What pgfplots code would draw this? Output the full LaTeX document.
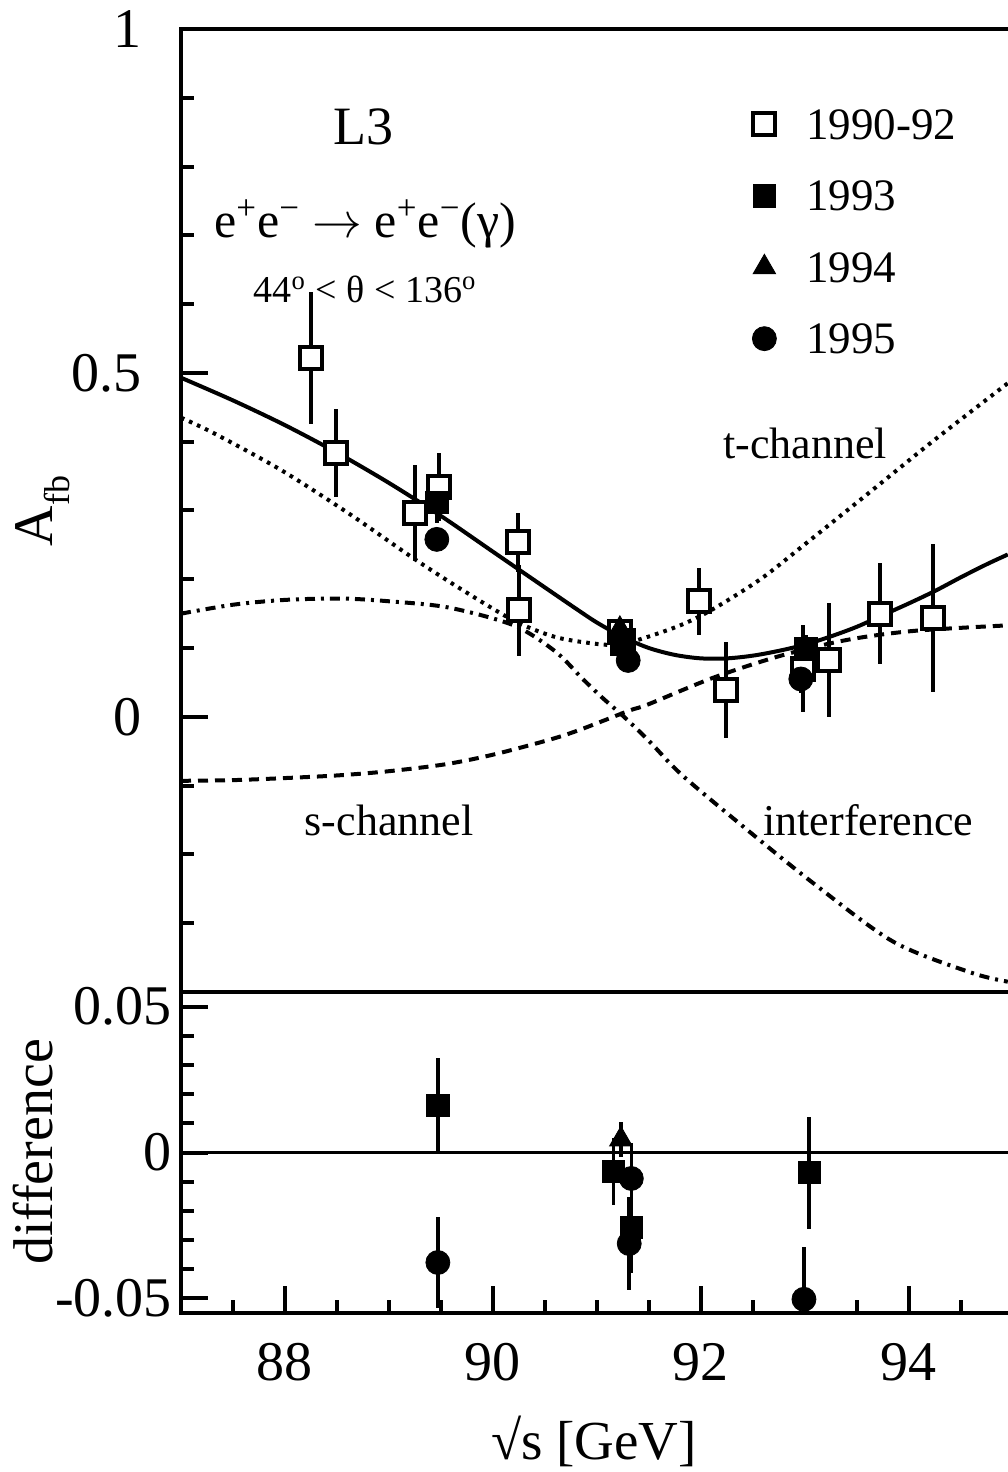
\documentclass[border=0pt]{standalone}
\usepackage{fontspec}
\setmainfont{Liberation Serif}
\usepackage{pgfplots}
\pgfplotsset{compat=1.18}

\newcommand{\fs}[1]{\fontsize{#1}{#1}\selectfont}

\pgfplotsset{
  panel/.style={
    scale only axis, width=416pt, xmin=87, xmax=95,
    axis line style={line width=2.2pt},
    every tick/.style={line width=2pt, black},
    major tick length=13.5pt, minor tick length=6.5pt,
    tick align=inside, ytick pos=left, xtick pos=bottom,
    ticklabel style={font=\fs{28}},
    scaled ticks=false,
  },
  errs/.style={error bars/.cd, y dir=both, y explicit, error mark=none,
    error bar style={line width=1.75pt, solid}},
  y9092/.style={only marks, mark=square*, mark size=5.5pt,
    mark options={fill=white, draw=black, line width=2pt}, errs},
  y1993/.style={only marks, mark=square*, mark size=5.6pt,
    mark options={fill=black, draw=black, line width=0.4pt}, errs},
  y1994/.style={only marks, mark=triangle*, mark size=6.5pt,
    mark options={fill=black, draw=black, line width=0.4pt}, errs},
  y1995/.style={only marks, mark=*, mark size=6pt,
    mark options={fill=black, draw=black, line width=0.4pt}, errs},
}

\begin{document}
\begin{tikzpicture}
\path[use as bounding box] (0,0) rectangle (503.5pt,736pt);

% upper panel: asymmetry
\begin{axis}[panel, at={(90.5pt,240pt)}, anchor=south west, height=481.5pt,
  ymin=-0.4, ymax=1, xtick=\empty,
  ytick={0,0.5,1}, yticklabels={0,0.5,1},
  minor ytick={-0.3,-0.2,-0.1,0.1,0.2,0.3,0.4,0.6,0.7,0.8,0.9},
  yticklabel style={xshift=-16pt},
  legend style={draw=none, fill=none, font=\fs{22.5},
    at={(axis description cs:0.6863,0.921)}, anchor=north west,
    inner xsep=0pt, inner ysep=0pt, row sep=16.8pt, column sep=13pt,
    nodes={inner sep=2pt, text depth=0pt}},
  legend cell align=left]

% total
\addplot[line width=2pt, smooth, forget plot] coordinates {
 (87.0,0.493) (87.5,0.460) (88.0,0.424) (88.5,0.384) (89.0,0.340)
 (89.5,0.292) (90.0,0.240) (90.5,0.188) (90.8,0.157) (91.0,0.137)
 (91.25,0.116) (91.5,0.100) (91.75,0.090) (92.0,0.085) (92.25,0.085)
 (92.5,0.089) (92.75,0.096) (93.0,0.105) (93.25,0.117) (93.5,0.131)
 (93.75,0.148) (94.0,0.165) (94.25,0.183) (94.5,0.203) (94.75,0.222)
 (94.95,0.236)};
% t-channel
\addplot[line width=2pt, smooth, dash pattern=on 1.8pt off 2.6pt, forget plot] coordinates {
 (87.0,0.435) (87.32,0.412) (87.96,0.359) (88.61,0.296) (89.24,0.230)
 (89.7,0.185) (90.2,0.140) (90.6,0.116) (91.0,0.106) (91.2,0.105)
 (91.42,0.113) (91.8,0.133) (92.12,0.157) (92.58,0.201) (93.0,0.251)
 (93.61,0.325) (94.24,0.402) (94.95,0.485)};
% s-channel
\addplot[line width=2pt, smooth, dash pattern=on 5pt off 3.5pt, forget plot] coordinates {
 (87.0,-0.093) (87.5,-0.092) (88.0,-0.089) (88.52,-0.085) (89.0,-0.079)
 (89.54,-0.069) (90.0,-0.055) (90.55,-0.033) (90.85,-0.018) (91.31,0.009)
 (91.49,0.018) (92.12,0.057) (92.77,0.089) (93.41,0.112) (94.05,0.125)
 (94.95,0.133)};
% interference
\addplot[line width=2pt, smooth, dash pattern=on 5pt off 3pt on 1.5pt off 3pt, forget plot] coordinates {
 (87.0,0.150) (87.5,0.163) (88.0,0.170) (88.54,0.172) (89.0,0.168)
 (89.57,0.159) (90.2,0.133) (90.6,0.095) (90.85,0.057) (91.05,0.028)
 (91.26,0.000) (91.5,-0.035) (91.82,-0.085) (92.45,-0.165) (93.09,-0.243)
 (93.85,-0.327) (94.6,-0.372) (94.95,-0.385)};

\addplot[y9092] table[y error index=2] {
88.25 0.522 0.096
88.49 0.383 0.064
89.25 0.296 0.070
89.48 0.334 0.050
90.24 0.254 0.043
90.25 0.155 0.066
91.22 0.124 0.012
91.25 0.108 0.012
91.98 0.168 0.049
92.24 0.039 0.070
92.98 0.070 0.063
93.23 0.083 0.083
93.72 0.150 0.073
94.23 0.144 0.108
};
\addplot[y1993] table[y error index=2] {
89.46 0.312 0.030
91.26 0.112 0.012
93.01 0.099 0.020
};
\addplot[y1994] table[y error index=2] {
91.22 0.128 0.010
};
\addplot[y1995] table[y error index=2] {
89.46 0.258 0.010
91.30 0.082 0.010
92.96 0.055 0.020
};
\legend{1990-92,1993,1994,1995}

\node[anchor=base, font=\fs{27}] at (axis cs:88.75,0.832) {L3};
\node[anchor=base, font=\fs{25}] at (axis cs:88.77,0.697)
  {e\textsuperscript{+}e\textsuperscript{−} $\rightarrow$ e\textsuperscript{+}e\textsuperscript{−}(γ)};
\node[anchor=base, font=\fs{19}] at (axis cs:88.77,0.603)
  {44\textsuperscript{o} < θ < 136\textsuperscript{o}};
\node[anchor=base, font=\fs{22}] at (axis cs:93.0,0.376) {t-channel};
\node[anchor=base, font=\fs{22}] at (axis cs:89.0,-0.173) {s-channel};
\node[anchor=base, font=\fs{22}] at (axis cs:93.61,-0.173) {interference};
\end{axis}

% lower panel: difference
\begin{axis}[panel, at={(90.5pt,79.5pt)}, anchor=south west, height=160.5pt,
  ymin=-0.055, ymax=0.055,
  xtick={88,90,92,94}, xticklabels={88,90,92,94},
  minor xtick={87.5,88.5,89,89.5,90.5,91,91.5,92.5,93,93.5,94.5},
  ytick={-0.05,0,0.05}, yticklabels={-0.05,0,0.05},
  minor ytick={-0.04,-0.03,-0.02,-0.01,0.01,0.02,0.03,0.04},
  xticklabel style={yshift=-11.7pt}, yticklabel style={xshift=-1pt}]
\addplot[line width=1.6pt, forget plot] coordinates {(87,0) (95,0)};
\addplot[y1993] table[y error index=2] {
89.47 0.0161 0.0163
91.16 -0.0065 0.0115
91.33 -0.0257 0.0155
93.04 -0.0069 0.0192
};
\addplot[y1994] table[y error index=2] {
91.23 0.0045 0.0060
};
\addplot[y1995] table[y error index=2] {
89.47 -0.0377 0.0155
91.33 -0.0089 0.0120
91.31 -0.0312 0.0160
92.99 -0.0503 0.0180
};
\end{axis}

\node[rotate=90, anchor=base, font=\fs{28}] at (26pt,480.5pt)
  {A\raisebox{-0.32em}{\fs{18}fb}};
\node[rotate=90, anchor=base, font=\fs{28}] at (26pt,160pt) {difference};
\node[anchor=base, font=\fs{27.5}] at (297pt,6pt) {√s [GeV]};
\end{tikzpicture}
\end{document}
